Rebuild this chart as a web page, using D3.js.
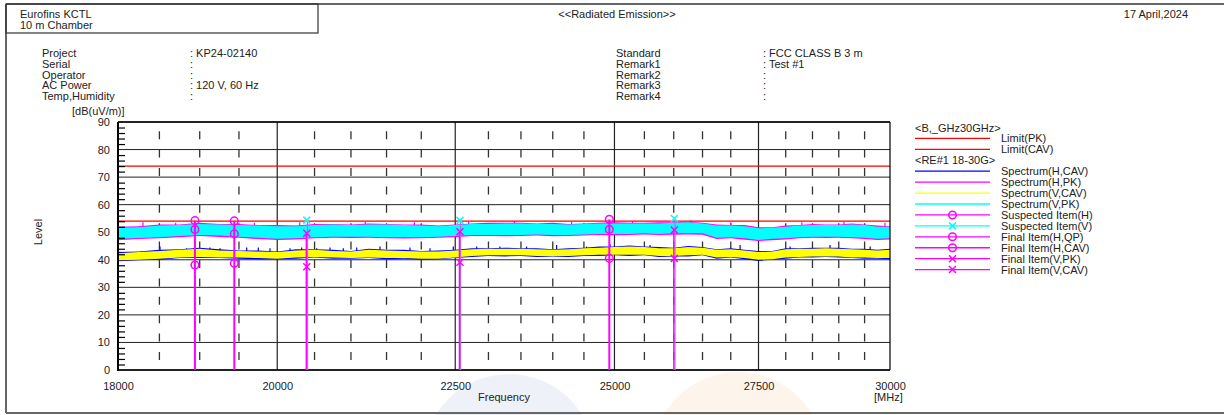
<!DOCTYPE html>
<html>
<head>
<meta charset="utf-8">
<script src="https://cdn.jsdelivr.net/npm/d3@7"></script>
<style>
  body { margin: 0; background: #fff; }
  svg text { font-family: "Liberation Sans", Arial, sans-serif; font-size: 11px; fill: #222; }
</style>
</head>
<body>
<div id="chart"></div>
<script>
// ---- values (MHz, dB(uV/m)) ----
const freqs = [18000, 18250, 18500, 18750, 19000, 19250, 19500, 19750, 20000, 20250, 20500, 20750,
  21000, 21250, 21500, 21750, 22000, 22250, 22500, 22750, 23000, 23250, 23500, 23750, 24000, 24250,
  24500, 24750, 25000, 25250, 25500, 25750, 26000, 26250, 26500, 26750, 27000, 27250, 27500, 27750,
  28000, 28250, 28500, 28750, 29000, 29250, 29500, 29750, 30000];

// Spectrum(V,PK) band top / bottom
const vpkHi = [51.6,51.8,52.4,52.6,53.0,52.8,52.6,52.4,52.2,52.2,52.6,52.8,52.6,52.8,52.8,52.6,52.4,52.2,52.6,53.0,
  53.0,53.2,53.2,53.0,53.0,52.8,53.0,53.2,53.2,53.2,53.2,53.2,53.4,53.6,53.2,52.4,52.4,52.2,51.4,51.6,
  52.0,52.4,52.6,52.6,52.6,52.8,52.6,52.0,52.0];
const vpkLo = [47.6,47.9,48.2,48.6,49.0,48.8,48.4,48.0,47.6,47.8,48.2,48.4,48.4,48.4,48.2,48.2,48.2,48.4,48.6,49.0,
  49.0,49.0,49.0,49.2,49.0,49.0,49.2,49.4,49.4,49.4,49.6,49.4,49.6,49.6,49.6,48.0,48.2,47.8,47.2,47.6,
  47.8,48.2,48.4,48.4,48.4,48.2,48.0,47.6,47.8];
// Spectrum(H,PK)
const hpkHi = [52.0,52.2,52.8,52.8,53.4,53.0,53.0,52.6,52.6,52.4,53.0,53.0,52.8,53.2,53.0,52.8,52.8,52.4,52.8,53.2,
  53.4,53.4,53.4,53.2,53.4,53.0,53.2,53.4,53.6,53.4,53.4,53.6,53.6,53.8,53.4,52.8,52.6,52.6,51.8,51.8,
  52.4,52.6,53.0,52.8,52.8,53.2,52.8,52.4,52.2];
const hpkLo = [47.1,47.5,47.8,48.2,48.6,48.3,48.0,47.5,47.2,47.4,47.8,48.0,47.9,48.0,47.8,47.7,47.8,48.0,48.2,48.6,
  48.6,48.5,48.6,48.8,48.5,48.6,48.8,49.0,48.9,49.0,49.2,49.0,49.1,49.2,49.1,47.5,47.8,47.3,46.8,47.1,
  47.4,47.8,48.0,47.9,48.0,47.8,47.5,47.2,47.4];
const hpkSpikes = [[18300, 53.6], [18700, 53.4], [19700, 53.4], [20300, 53.6], [21200, 53.8], [21900, 53.6],
  [22700, 53.8], [23400, 54.0], [24300, 53.8], [25300, 54.0], [26300, 54.2], [27000, 53.6], [28300, 53.6],
  [29100, 53.8], [29900, 53.4]];

// Spectrum(V,CAV)
const vcavHi = [42.4,42.8,43.2,43.6,44.0,43.4,43.2,43.0,42.8,43.4,43.6,43.2,43.0,43.6,43.4,43.2,43.0,43.0,43.4,43.8,
  44.0,44.0,44.0,43.8,43.6,43.8,44.2,44.4,44.6,44.8,44.6,44.2,44.2,44.6,44.4,43.6,43.8,43.4,42.8,43.0,
  43.8,44.0,44.0,44.2,44.0,43.8,43.6,43.4,43.6];
const vcavLo = [39.8,40.0,40.4,40.8,41.0,40.8,40.8,40.6,40.4,40.8,41.0,40.8,40.6,40.8,40.6,40.6,40.4,40.4,40.8,41.4,
  41.6,41.6,41.6,41.4,41.4,41.4,41.6,41.8,41.8,41.8,41.8,41.4,41.4,41.6,41.8,40.8,41.0,40.6,40.0,40.2,
  40.8,41.0,41.2,41.2,41.2,40.8,40.8,40.6,40.6];
// Spectrum(H,CAV)
const hcavHi = [42.8,43.0,43.6,43.8,44.4,43.8,43.4,43.4,43.0,43.8,43.8,43.6,43.2,44.0,43.6,43.6,43.2,43.4,43.6,44.2,
  44.2,44.4,44.2,44.2,43.8,44.2,44.4,44.8,44.8,45.2,44.8,44.6,44.4,45.0,44.6,43.8,44.2,43.6,43.2,43.2,
  44.2,44.2,44.4,44.4,44.4,44.0,44.0,43.6,44.0];
const hcavLo = [39.5,39.8,40.0,40.6,40.6,40.6,40.4,40.2,40.2,40.4,40.8,40.4,40.4,40.6,40.2,40.4,40.0,40.2,40.6,41.0,
  41.4,41.2,41.4,41.0,41.2,41.0,41.4,41.4,41.6,41.4,41.6,41.0,41.2,41.2,41.6,40.4,40.8,40.2,39.6,40.0,
  40.4,40.8,40.8,41.0,40.8,40.6,40.4,40.4,40.2];
const hcavSpikes = [[18024, 42.9], [18284, 43.1], [18507, 44.8], [18651, 43.5], [18837, 44.2], [19129, 44.5],
  [19257, 44.2], [19600, 44.5], [19751, 44.5], [19904, 44.2], [20170, 44.2], [20326, 44.5], [20529, 44.2],
  [20711, 44.5], [20894, 44.2], [21080, 44.5], [21407, 44.8], [21836, 44.5], [22128, 44.2], [22471, 44.8],
  [22821, 44.8], [23175, 44.8], [23588, 44.8], [24061, 45.4], [24543, 44.8], [24925, 45.7], [25596, 45.4],
  [26283, 44.8], [27167, 45.4], [28081, 44.8], [28832, 45.4], [29609, 44.8]];

const limitLevels = [74, 54];   // Limit(PK), Limit(CAV)

const hFreqs = [18940, 19440, 24915];
const suspectH = [54.2, 54.1, 54.7];
const finalHQP = [51.0, 49.4, 51.0];
const finalHCAV = [38.1, 38.7, 40.5];
const vFreqs = [20395, 22570, 26010];
const suspectV = [54.4, 54.3, 55.0];
const finalVPK = [49.6, 50.2, 50.8];
const finalVCAV = [37.5, 39.1, 40.5];

const xTicks = [18000, 20000, 22500, 25000, 27500, 30000];
const xSolidGrid = [20000, 22500, 25000, 27500];
const xDashGrid = [18500, 19000, 19500, 20500, 21000, 21500, 22000, 23000, 23500, 24000, 24500,
  25500, 26000, 26500, 27000, 28000, 28500, 29000, 29500];
const yTicks = [0, 10, 20, 30, 40, 50, 60, 70, 80, 90];
const yMinor = [2,4,6,8,12,14,16,18,22,24,26,28,32,34,36,38,42,44,46,48,52,54,56,58,62,64,66,68,72,74,76,78,82,84,86,88];

const infoLeft = [["Project", ": KP24-02140"], ["Serial", ":"], ["Operator", ":"], ["AC Power", ": 120 V, 60 Hz"], ["Temp,Humidity", ":"]];
const infoRight = [["Standard", ": FCC CLASS B 3 m"], ["Remark1", ": Test #1"], ["Remark2", ":"], ["Remark3", ":"], ["Remark4", ":"]];

const legendLabels = ["<B,_GHz30GHz>", "Limit(PK)", "Limit(CAV)", "<RE#1 18-30G>", "Spectrum(H,CAV)", "Spectrum(H,PK)",
  "Spectrum(V,CAV)", "Spectrum(V,PK)", "Suspected Item(H)", "Suspected Item(V)", "Final Item(H,QP)",
  "Final Item(H,CAV)", "Final Item(V,PK)", "Final Item(V,CAV)"];

// ---- styles ----
const RED = "#ff0000", BLUE = "#0000ff", MAG = "#ff00ff", YEL = "#ffff00", CYAN = "#00ffff";
const legendStyle = {
  "Limit(PK)": { color: RED }, "Limit(CAV)": { color: RED },
  "Spectrum(H,CAV)": { color: BLUE }, "Spectrum(H,PK)": { color: MAG },
  "Spectrum(V,CAV)": { color: YEL }, "Spectrum(V,PK)": { color: CYAN },
  "Suspected Item(H)": { color: MAG, mark: "o" }, "Suspected Item(V)": { color: CYAN, mark: "x" },
  "Final Item(H,QP)": { color: MAG, mark: "o" }, "Final Item(H,CAV)": { color: MAG, mark: "o" },
  "Final Item(V,PK)": { color: MAG, mark: "x" }, "Final Item(V,CAV)": { color: MAG, mark: "x" }
};

const W = 1224, H = 415;
const svg = d3.select("#chart").append("svg").attr("width", W).attr("height", H);

// faint background discs
svg.append("circle").attr("cx", 509).attr("cy", 460).attr("r", 86).attr("fill", "#eef1f8");
svg.append("circle").attr("cx", 738).attr("cy", 458).attr("r", 86).attr("fill", "#fdf5ec");

// frame
svg.append("line").attr("x1", 6).attr("x2", W).attr("y1", 4).attr("y2", 4).attr("stroke", "#333").attr("stroke-width", 1.5);
svg.append("line").attr("x1", 6).attr("x2", 6).attr("y1", 4).attr("y2", 413).attr("stroke", "#666").attr("stroke-width", 2);
svg.append("line").attr("x1", 6).attr("x2", W).attr("y1", 413).attr("y2", 413).attr("stroke", "#666").attr("stroke-width", 2);
svg.append("rect").attr("x", 6).attr("y", 4).attr("width", 312).attr("height", 29)
  .attr("fill", "none").attr("stroke", "#333").attr("stroke-width", 1.2);

svg.append("text").attr("x", 20).attr("y", 18).text("Eurofins KCTL");
svg.append("text").attr("x", 20).attr("y", 28.5).text("10 m Chamber");
svg.append("text").attr("x", 617).attr("y", 18).attr("text-anchor", "middle").text("<<Radiated Emission>>");
svg.append("text").attr("x", 1188).attr("y", 18).attr("text-anchor", "end").text("17 April,2024");

infoLeft.forEach((r, i) => {
  const yy = 57 + i * 10.75;
  svg.append("text").attr("x", 42).attr("y", yy).text(r[0]);
  svg.append("text").attr("x", 190).attr("y", yy).text(r[1]);
});
infoRight.forEach((r, i) => {
  const yy = 57 + i * 10.75;
  svg.append("text").attr("x", 616).attr("y", yy).text(r[0]);
  svg.append("text").attr("x", 763).attr("y", yy).text(r[1]);
});

// ---- plot ----
const x = d3.scaleLog().domain([18000, 30000]).range([118, 890]);
const y = d3.scaleLinear().domain([0, 90]).range([370, 122]);

const grid = svg.append("g");
grid.selectAll("line.h").data(yTicks).enter().append("line")
  .attr("x1", 118).attr("x2", 890).attr("y1", d => y(d)).attr("y2", d => y(d))
  .attr("stroke", "#222").attr("stroke-width", 1);
grid.selectAll("line.vs").data(xSolidGrid).enter().append("line")
  .attr("x1", d => x(d)).attr("x2", d => x(d)).attr("y1", 122).attr("y2", 370)
  .attr("stroke", "#222").attr("stroke-width", 1.2);
grid.selectAll("line.vd").data(xDashGrid).enter().append("line")
  .attr("x1", d => x(d)).attr("x2", d => x(d)).attr("y1", 122).attr("y2", 370)
  .attr("stroke", "#333").attr("stroke-width", 1.3)
  .attr("stroke-dasharray", "8,10.4").attr("stroke-dashoffset", -9.2);

// spectra: bands drawn as areas between the read envelopes
function band(lo, hi) {
  return d3.area().x((d, i) => x(freqs[i])).y0((d, i) => y(lo[i])).y1((d, i) => y(hi[i]))(freqs);
}
const spec = svg.append("g");
spec.selectAll("line.bs").data(hcavSpikes).enter().append("line")
  .attr("x1", d => x(d[0])).attr("x2", d => x(d[0])).attr("y1", d => y(d[1])).attr("y2", d => y(d[1] - 3))
  .attr("stroke", BLUE).attr("stroke-width", 1.2);
spec.append("path").attr("d", band(hcavLo, hcavHi)).attr("fill", BLUE);
spec.selectAll("line.ms").data(hpkSpikes).enter().append("line")
  .attr("x1", d => x(d[0])).attr("x2", d => x(d[0])).attr("y1", d => y(d[1])).attr("y2", d => y(d[1] - 3))
  .attr("stroke", MAG).attr("stroke-width", 1.2);
spec.append("path").attr("d", band(hpkLo, hpkHi)).attr("fill", MAG);
spec.append("path").attr("d", band(vcavLo, vcavHi)).attr("fill", YEL);
spec.append("path").attr("d", band(vpkLo, vpkHi)).attr("fill", CYAN);

// limits
svg.selectAll("line.lim").data(limitLevels).enter().append("line")
  .attr("x1", 118).attr("x2", 890).attr("y1", d => y(d)).attr("y2", d => y(d))
  .attr("stroke", RED).attr("stroke-width", 1.3);

// axes
svg.append("line").attr("x1", 118).attr("x2", 118).attr("y1", 122).attr("y2", 371).attr("stroke", "#000").attr("stroke-width", 2);
svg.append("line").attr("x1", 117).attr("x2", 890).attr("y1", 370).attr("y2", 370).attr("stroke", "#000").attr("stroke-width", 1.6);
svg.append("line").attr("x1", 890).attr("x2", 890).attr("y1", 122).attr("y2", 370).attr("stroke", "#000").attr("stroke-width", 1.2);
svg.append("line").attr("x1", 118).attr("x2", 890).attr("y1", 122).attr("y2", 122).attr("stroke", "#000").attr("stroke-width", 1.4);

const minorAxis = svg.append("g").attr("transform", "translate(118,0)")
  .call(d3.axisRight(y).tickValues(yMinor).tickSize(7).tickFormat(""));
minorAxis.select(".domain").remove();
minorAxis.selectAll("line").attr("stroke", "#000").attr("stroke-width", 1.2);

const yAxis = svg.append("g").attr("transform", "translate(118,0)")
  .call(d3.axisLeft(y).tickValues(yTicks).tickSize(0).tickPadding(8));
yAxis.select(".domain").remove();
yAxis.selectAll("text").attr("font-size", null).attr("font-family", null);

const xAxis = svg.append("g").attr("transform", "translate(0,370)")
  .call(d3.axisBottom(x).tickValues(xTicks).tickSize(0).tickPadding(12).tickFormat(d3.format("d")));
xAxis.select(".domain").remove();
xAxis.selectAll("text").attr("font-size", null).attr("font-family", null);

svg.append("text").attr("x", 72).attr("y", 115).text("[dB(uV/m)]");
svg.append("text").attr("transform", "translate(41.5,232) rotate(-90)").attr("text-anchor", "middle").text("Level");
svg.append("text").attr("x", 504).attr("y", 401).attr("text-anchor", "middle").text("Frequency");
svg.append("text").attr("x", 874).attr("y", 401).text("[MHz]");

// final / suspected items
function xMark(g, cx, cy, color) {
  g.append("path").attr("d", `M${cx - 3.5},${cy - 3.5}L${cx + 3.5},${cy + 3.5}M${cx - 3.5},${cy + 3.5}L${cx + 3.5},${cy - 3.5}`)
    .attr("stroke", color).attr("stroke-width", 1.5).attr("fill", "none");
}
function oMark(g, cx, cy, color) {
  g.append("circle").attr("cx", cx).attr("cy", cy).attr("r", 3.8)
    .attr("stroke", color).attr("stroke-width", 1.5).attr("fill", "none");
}
const items = svg.append("g");
hFreqs.forEach((f, i) => {
  items.append("line").attr("x1", x(f)).attr("x2", x(f)).attr("y1", y(0)).attr("y2", y(suspectH[i]))
    .attr("stroke", MAG).attr("stroke-width", 2);
});
vFreqs.forEach((f, i) => {
  items.append("line").attr("x1", x(f) + 0.7).attr("x2", x(f) + 0.7).attr("y1", y(0)).attr("y2", y(suspectV[i]))
    .attr("stroke", "#b070f0").attr("stroke-width", 1.2);
  items.append("line").attr("x1", x(f) - 0.5).attr("x2", x(f) - 0.5).attr("y1", y(0)).attr("y2", y(finalVPK[i]))
    .attr("stroke", MAG).attr("stroke-width", 1.4);
});
hFreqs.forEach((f, i) => {
  oMark(items, x(f), y(suspectH[i]), MAG);
  oMark(items, x(f), y(finalHQP[i]), MAG);
  oMark(items, x(f), y(finalHCAV[i]), MAG);
});
vFreqs.forEach((f, i) => {
  xMark(items, x(f), y(suspectV[i]), CYAN);
  xMark(items, x(f), y(finalVPK[i]), MAG);
  xMark(items, x(f), y(finalVCAV[i]), MAG);
});

// legend
const lg = svg.append("g");
legendLabels.forEach((lab, i) => {
  const ry = 127.5 + i * 10.93;
  const st = legendStyle[lab];
  if (!st) {
    lg.append("text").attr("x", 915).attr("y", ry + 4).text(lab);
    return;
  }
  lg.append("line").attr("x1", 915).attr("x2", 990).attr("y1", ry).attr("y2", ry)
    .attr("stroke", st.color).attr("stroke-width", 1.3);
  if (st.mark === "o") oMark(lg, 952.5, ry, st.color);
  if (st.mark === "x") xMark(lg, 952.5, ry, st.color);
  lg.append("text").attr("x", 1001).attr("y", ry + 4).text(lab);
});
</script>
</body>
</html>
